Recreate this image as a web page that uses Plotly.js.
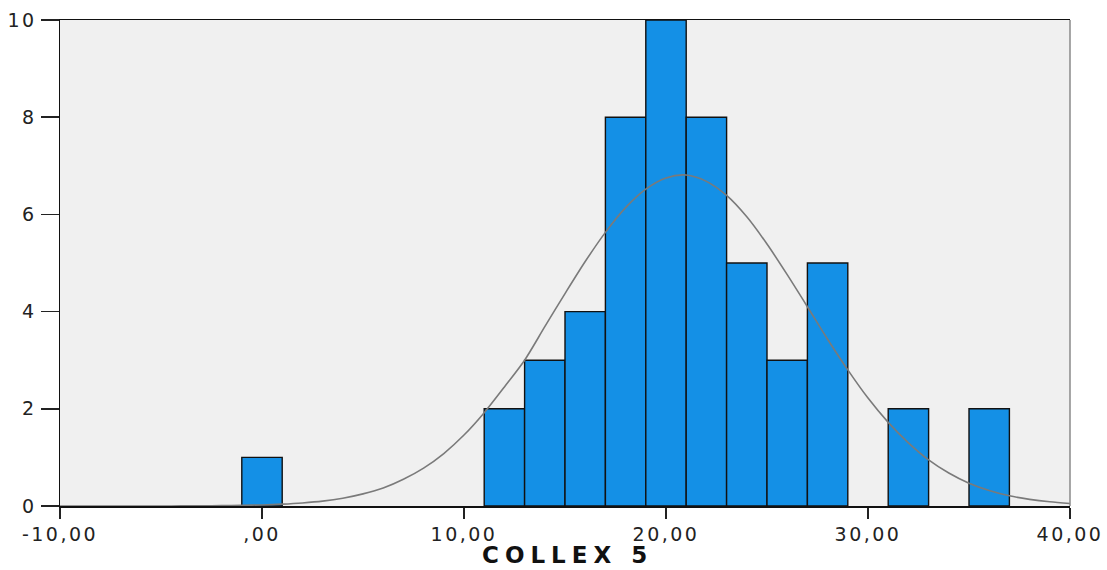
<!DOCTYPE html>
<html>
<head>
<meta charset="utf-8">
<script src="https://cdn.plot.ly/plotly-3.0.1.min.js"></script>
<style>
  html, body { margin: 0; padding: 0; background: #ffffff; }
  #chart { width: 1107px; height: 570px; }
  .xtick text, .ytick text { letter-spacing: 2.5px; }
  .annotation-text { letter-spacing: 6px; }
</style>
</head>
<body>
<div id="chart"></div>
<script>
// Histogram bins (bin centres, width 2) and counts
const binCenters = [0, 12, 14, 16, 18, 20, 22, 24, 26, 28, 32, 36];
const binCounts  = [1, 2, 3, 4, 8, 10, 8, 5, 3, 5, 2, 2];
const binWidth = 2;

// Normal curve (one point per unit)
const curveX = [-10, -9, -8, -7, -6, -5, -4, -3, -2, -1, 0, 1, 2, 3, 4, 5, 6, 7, 8, 9, 10,
                11, 12, 13, 14, 15, 16, 17, 18, 19, 20, 21, 22, 23, 24, 25, 26, 27, 28, 29, 30,
                31, 32, 33, 34, 35, 36, 37, 38, 39, 40];
const curveY = [0.0, 0.0, 0.0, 0.0, 0.0, 0.001, 0.002, 0.004, 0.007, 0.013, 0.022, 0.038, 0.063, 0.10, 0.16, 0.25, 0.37, 0.55, 0.78, 1.08, 1.46,
                1.92, 2.45, 3.0, 3.69, 4.37, 5.03, 5.63, 6.14, 6.52, 6.75, 6.81, 6.68, 6.39, 5.95, 5.39, 4.76, 4.10, 3.43, 2.80, 2.22,
                1.72, 1.30, 0.95, 0.68, 0.47, 0.32, 0.21, 0.137, 0.086, 0.052];

// Axis ticks
const xTickVals = [-10, 0, 10, 20, 30, 40];
const xTickText = ['-10,00', ',00', '10,00', '20,00', '30,00', '40,00'];
const yTickVals = [0, 2, 4, 6, 8, 10];
const xTitle = 'COLLEX 5';

const tickFont = { family: 'DejaVu Sans, Arial, sans-serif', size: 19, color: '#222222' };

const traces = [
  {
    type: 'bar',
    x: binCenters,
    y: binCounts,
    width: binCenters.map(() => binWidth),
    marker: { color: '#1490E6', line: { color: '#111111', width: 1.4 } },
    hoverinfo: 'x+y'
  },
  {
    type: 'scatter',
    mode: 'lines',
    x: curveX,
    y: curveY,
    line: { color: '#7a7a7a', width: 1.6, shape: 'spline', smoothing: 0.8 },
    hoverinfo: 'skip'
  }
];

const layout = {
  width: 1107,
  height: 570,
  margin: { l: 60, r: 37, t: 20, b: 64 },
  paper_bgcolor: '#ffffff',
  plot_bgcolor: '#f0f0f0',
  showlegend: false,
  bargap: 0,
  xaxis: {
    range: [-10, 40],
    tickvals: xTickVals,
    ticktext: xTickText,
    ticks: 'outside',
    ticklen: 11,
    tickwidth: 1.5,
    tickcolor: '#222222',
    showgrid: false,
    zeroline: false,
    showline: true,
    linecolor: '#111111',
    linewidth: 1.5,
    mirror: true,
    tickfont: tickFont
  },
  yaxis: {
    range: [0, 10],
    tickvals: yTickVals,
    ticks: 'outside',
    ticklen: 18,
    tickwidth: 1.5,
    tickcolor: '#222222',
    showgrid: false,
    zeroline: false,
    showline: true,
    linecolor: '#111111',
    linewidth: 1.5,
    tickfont: tickFont
  },
  annotations: [
    { text: '<b>' + xTitle + '</b>', xref: 'paper', yref: 'paper', x: 0.5, y: 0, xanchor: 'center', yanchor: 'middle',
      yshift: -49, xshift: 2, showarrow: false, borderpad: 0,
      font: { family: 'DejaVu Sans, Arial, sans-serif', size: 23, color: '#111111' } }
  ],
  shapes: [
    { type: 'line', xref: 'paper', yref: 'paper', x0: 1, x1: 1, y0: 0, y1: 1, line: { color: '#8a8a8a', width: 1.5 } }
  ]
};

Plotly.newPlot('chart', traces, layout, { displayModeBar: false, staticPlot: true });
</script>
</body>
</html>
